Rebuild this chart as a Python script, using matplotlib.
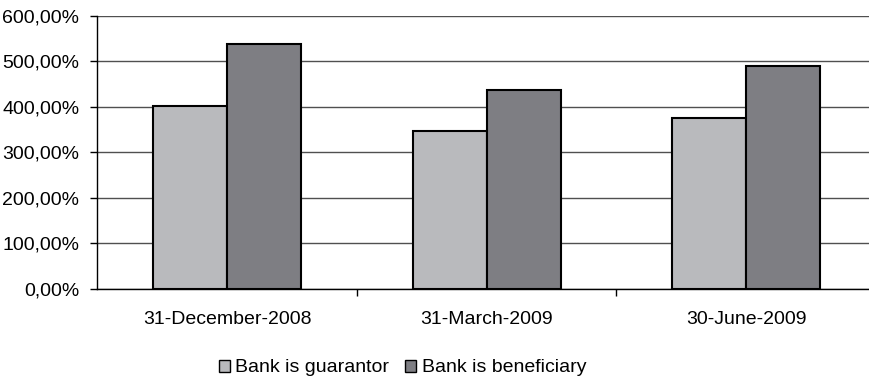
import matplotlib
matplotlib.use("Agg")
import matplotlib.pyplot as plt
from matplotlib.ticker import FuncFormatter, FixedLocator
from matplotlib.patches import Patch
import numpy as np

categories = ['31-December-2008', '31-March-2009', '30-June-2009']
guarantor = [401, 347, 375]
beneficiary = [538, 437, 490]
series_names = ['Bank is guarantor', 'Bank is beneficiary']
colors = ['#B9BABD', '#7E7E83']

plt.rcParams['font.family'] = ['Liberation Sans', 'DejaVu Sans']
fs = 14

fig = plt.figure(figsize=(8.7, 3.8), dpi=100)
# axes runs off the right edge of the picture, as in the original crop
ax = fig.add_axes([97.5 / 870, 91 / 380, 778.5 / 870, 273.3 / 380])

x = np.arange(len(categories))
w = 1 / 3.5
ax.bar(x - w / 2, guarantor, w, color=colors[0], edgecolor='black', linewidth=1.5, zorder=3)
ax.bar(x + w / 2, beneficiary, w, color=colors[1], edgecolor='black', linewidth=1.5, zorder=3)

ax.set_xlim(-0.5, 2.5)
ax.set_ylim(0, 600)
ax.set_yticks(range(0, 601, 100))
ax.yaxis.set_major_formatter(FuncFormatter(lambda v, p: f'{v:.2f}%'.replace('.', ',')))
ax.yaxis.grid(True, color='#505050', linewidth=1.0, zorder=0)
ax.set_axisbelow(True)

ax.set_xticks(x)
ax.set_xticklabels(categories)
ax.xaxis.set_minor_locator(FixedLocator([0.5, 1.5]))
ax.tick_params(axis='x', which='major', length=0, pad=16, labelsize=fs)
ax.tick_params(axis='x', which='minor', length=5, width=1, direction='out')
ax.tick_params(axis='y', length=5, width=1, direction='out', pad=8, labelsize=fs)

for s in ['top', 'right']:
    ax.spines[s].set_visible(False)
ax.spines['left'].set_linewidth(1.0)
ax.spines['bottom'].set_linewidth(1.0)

handles = [Patch(facecolor=c, edgecolor='black', linewidth=1.0) for c in colors]
fig.legend(handles, series_names, loc='center', bbox_to_anchor=(402.5 / 870, 12 / 380),
           ncol=2, frameon=False, fontsize=fs, handlelength=0.57, handleheight=0.57,
           handletextpad=0.3, columnspacing=0.8, borderpad=0)

fig.savefig('out.png', dpi=100)
